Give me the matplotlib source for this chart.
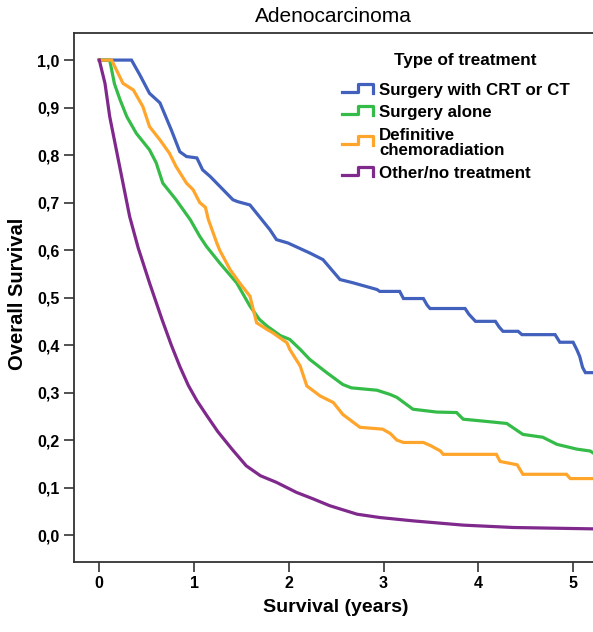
import matplotlib
matplotlib.use("Agg")
import matplotlib.pyplot as plt

plt.rcParams['font.family'] = ['Liberation Sans', 'DejaVu Sans']

# Kaplan-Meier curves (years, survival)
surg_crt_t = [0, 0.34, 0.43, 0.53, 0.64, 0.76, 0.85, 0.92, 1.03, 1.09, 1.17, 1.41, 1.46, 1.59,
              1.80, 1.87, 1.99, 2.22, 2.36, 2.54, 2.68, 2.93, 2.96, 3.17, 3.21, 3.42, 3.46, 3.49,
              3.86, 3.90, 3.97, 4.18, 4.22, 4.26, 4.42, 4.46, 4.81, 4.86, 5.00, 5.04, 5.07, 5.10,
              5.13, 5.25]
surg_crt_s = [1.0, 1.0, 0.968, 0.93, 0.91, 0.853, 0.807, 0.797, 0.794, 0.769, 0.755, 0.706, 0.702,
              0.695, 0.643, 0.622, 0.615, 0.594, 0.58, 0.538, 0.531, 0.517, 0.513, 0.513, 0.498,
              0.498, 0.484, 0.477, 0.477, 0.465, 0.45, 0.45, 0.438, 0.429, 0.429, 0.422, 0.422,
              0.406, 0.406, 0.39, 0.376, 0.353, 0.342, 0.342]

surg_alone_t = [0, 0.11, 0.16, 0.22, 0.29, 0.39, 0.53, 0.60, 0.67, 0.81, 0.96, 1.06, 1.13, 1.27,
                1.45, 1.59, 1.69, 1.77, 1.91, 2.01, 2.12, 2.22, 2.40, 2.57, 2.66, 2.93, 3.07, 3.14,
                3.31, 3.56, 3.77, 3.84, 4.05, 4.30, 4.47, 4.68, 4.83, 5.04, 5.18, 5.25]
surg_alone_s = [1.0, 1.0, 0.95, 0.916, 0.881, 0.846, 0.811, 0.784, 0.741, 0.706, 0.664, 0.629,
                0.608, 0.573, 0.531, 0.482, 0.454, 0.44, 0.42, 0.412, 0.391, 0.37, 0.342, 0.317,
                0.31, 0.305, 0.296, 0.29, 0.265, 0.259, 0.258, 0.244, 0.24, 0.235, 0.212, 0.206,
                0.191, 0.181, 0.177, 0.168]

def_crt_t = [0, 0.13, 0.25, 0.36, 0.46, 0.53, 0.64, 0.74, 0.81, 0.92, 0.99, 1.06, 1.12, 1.15,
             1.24, 1.27, 1.38, 1.48, 1.59, 1.66, 1.77, 1.83, 1.98, 2.01, 2.12, 2.19, 2.33, 2.47,
             2.57, 2.75, 2.99, 3.07, 3.14, 3.21, 3.42, 3.50, 3.60, 3.63, 4.19, 4.23, 4.41, 4.47,
             4.93, 4.97, 5.25]
def_crt_s = [1.0, 1.0, 0.951, 0.937, 0.902, 0.86, 0.832, 0.804, 0.776, 0.741, 0.727, 0.70, 0.69,
             0.665, 0.615, 0.60, 0.559, 0.531, 0.503, 0.447, 0.433, 0.426, 0.405, 0.391, 0.356,
             0.314, 0.293, 0.279, 0.254, 0.227, 0.223, 0.214, 0.20, 0.195, 0.195, 0.188, 0.177,
             0.17, 0.17, 0.155, 0.148, 0.128, 0.128, 0.119, 0.119]

other_t = [0, 0.06, 0.11, 0.18, 0.25, 0.32, 0.41, 0.53, 0.66, 0.76, 0.85, 0.94, 1.03, 1.13,
           1.25, 1.40, 1.55, 1.70, 1.87, 2.01, 2.08, 2.26, 2.43, 2.72, 2.96, 3.31, 3.84, 4.37,
           5.25]
other_s = [1.0, 0.951, 0.881, 0.811, 0.741, 0.671, 0.605, 0.531, 0.455, 0.40, 0.355, 0.315,
           0.283, 0.253, 0.218, 0.181, 0.146, 0.125, 0.111, 0.097, 0.090, 0.076, 0.062, 0.044,
           0.037, 0.030, 0.021, 0.016, 0.013]

labels = ["Surgery with CRT or CT", "Surgery alone", "Definitive\nchemoradiation",
          "Other/no treatment"]
colors = ["#4261BD", "#35BC48", "#FFA52B", "#80298D"]

xticks = [0, 1, 2, 3, 4, 5]
yticks = [i / 10 for i in range(11)]
ytick_labels = [f"{v:.1f}".replace(".", ",") for v in yticks]

W, H = 593, 632
fig = plt.figure(figsize=(W / 100, H / 100), dpi=100)
ax = fig.add_axes([73.7 / W, 1 - 561.7 / H, (W - 73.7) / W, (561.7 - 33) / H])

series = [(surg_crt_t, surg_crt_s), (surg_alone_t, surg_alone_s),
          (def_crt_t, def_crt_s), (other_t, other_s)]
for (t, s), c in zip(series, colors):
    ax.plot(t, s, color=c, lw=2.3, solid_joinstyle='miter')

ax.set_xlim(-0.27, 5.21)
ax.set_ylim(-0.056, 1.057)
ax.set_xticks(xticks)
ax.set_yticks(yticks)
ax.set_yticklabels(ytick_labels)
for lab in ax.get_xticklabels() + ax.get_yticklabels():
    lab.set_fontweight('bold')
    lab.set_fontsize(11.5)
ax.tick_params(direction='out', length=7, width=1.2, color='#333333', pad=3)
ax.spines['right'].set_visible(False)
for sp in ['left', 'bottom', 'top']:
    ax.spines[sp].set_linewidth(1.3)
    ax.spines[sp].set_color('#333333')

fig.text(333 / W, 1 - 16 / H, "Adenocarcinoma", ha='center', va='center', fontsize=15)
fig.text(336 / W, 1 - 608 / H, "Survival (years)", ha='center', va='center',
         fontsize=14, fontweight='bold')
fig.text(18 / W, 1 - 294 / H, "Overall Survival", ha='center', va='center',
         fontsize=14.5, fontweight='bold', rotation=90)

# legend drawn by hand with SPSS-style step handles
fig.text(465 / W, 1 - 61 / H, "Type of treatment", ha='center', va='center',
         fontsize=12.3, fontweight='bold')
handle_y = [92, 114, 144, 175]
text_y = [90, 112.3, 143, 173.3]
for hy, ty, c, lab in zip(handle_y, text_y, colors, labels):
    xs = [341.7, 358, 358, 373.3, 373.3]
    ys = [hy, hy, hy - 8.5, hy - 8.5, hy + 0.5]
    fig.add_artist(plt.Line2D([x / W for x in xs], [1 - y / H for y in ys],
                              color=c, lw=2.3, transform=fig.transFigure))
    fig.text(379 / W, 1 - ty / H, lab, ha='left', va='center', fontsize=12.2,
             fontweight='bold', linespacing=1.0)

fig.savefig("out.png", dpi=100)
